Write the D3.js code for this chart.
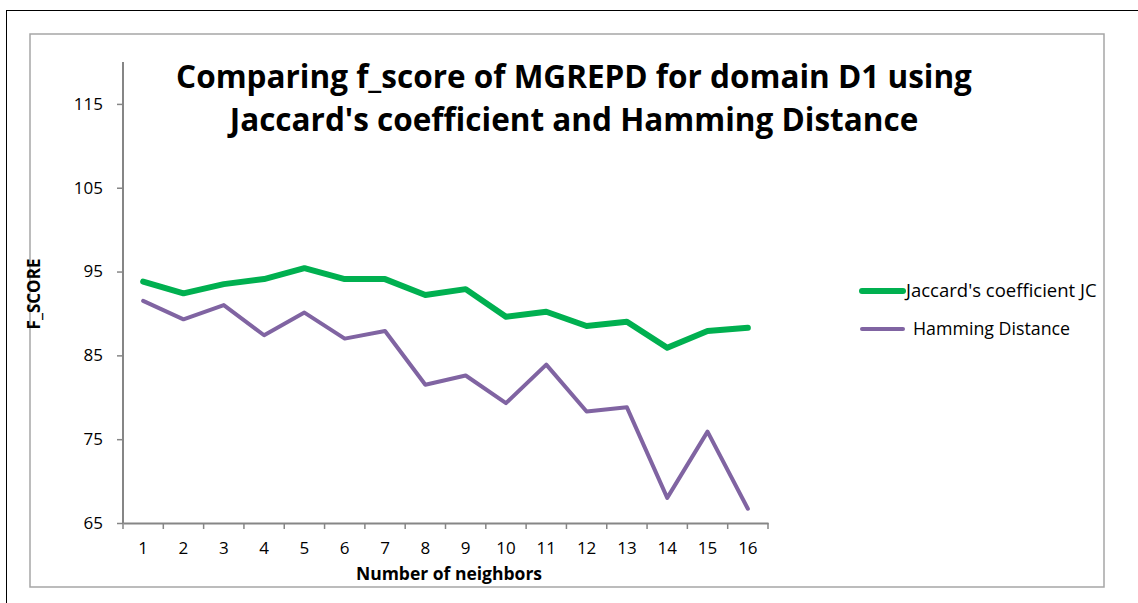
<!DOCTYPE html>
<html>
<head>
<meta charset="utf-8">
<script src="https://cdn.jsdelivr.net/npm/d3@7"></script>
<style>
  body { margin: 0; background: #fff; }
  text { font-family: "Open Sans", "Liberation Sans", sans-serif; }
</style>
</head>
<body>
<svg id="chart" width="1138" height="603"></svg>
<script>
const neighbors = d3.range(1, 17);
const jaccard = [93.8, 92.4, 93.5, 94.1, 95.4, 94.1, 94.1, 92.2, 92.9, 89.6, 90.2, 88.5, 89.0, 85.9, 87.9, 88.3];
const hamming = [91.5, 89.3, 91.0, 87.4, 90.1, 87.0, 87.9, 81.5, 82.6, 79.3, 83.9, 78.3, 78.8, 68.0, 75.9, 66.7];
const yTicks = [65, 75, 85, 95, 105, 115];

const series = [
  { name: "Jaccard's coefficient JC", values: jaccard, color: "#00B050", width: 6, labelDx: 2, size: 18.5 },
  { name: "Hamming Distance", values: hamming, color: "#8064A2", width: 4, labelDx: 9, size: 17.8 }
];

const svg = d3.select('#chart');

// outer frame + chart area frame
svg.append('rect').attr('x', 6.5).attr('y', 10.5).attr('width', 1140).attr('height', 600)
  .attr('fill', 'none').attr('stroke', '#000').attr('stroke-width', 1);
svg.append('rect').attr('x', 30).attr('y', 34).attr('width', 1074).attr('height', 553)
  .attr('fill', '#fff').attr('stroke', '#a6a6a6').attr('stroke-width', 1.5);

const margin = { left: 123, top: 62 };
const width = 645, height = 461;

const x = d3.scaleBand().domain(neighbors).range([0, width]);
const y = d3.scaleLinear().domain([65, 120]).range([height, 0]);

const g = svg.append('g').attr('transform', `translate(${margin.left},${margin.top})`);

const xAxis = g.append('g')
  .attr('transform', `translate(0,${height})`)
  .call(d3.axisBottom(x).tickSize(0).tickPadding(19));
xAxis.select('.domain').attr('stroke', '#868686').attr('stroke-width', 2);
xAxis.selectAll('text').attr('font-size', 17).attr('fill', '#000');
// tick marks at category boundaries
xAxis.selectAll('.bnd').data(d3.range(0, 17)).enter().append('line')
  .attr('x1', i => i * x.step()).attr('x2', i => i * x.step())
  .attr('y1', 0).attr('y2', 6).attr('stroke', '#868686').attr('stroke-width', 1.5);

const yAxis = g.append('g')
  .call(d3.axisLeft(y).tickValues(yTicks).tickSize(6).tickPadding(14));
yAxis.select('.domain').attr('stroke', '#868686').attr('stroke-width', 2).attr('d', `M0,0V${height}`);
yAxis.selectAll('line').attr('stroke', '#868686').attr('stroke-width', 1.5);
yAxis.selectAll('text').attr('font-size', 17).attr('fill', '#000');

const line = d3.line()
  .x((d, i) => x(neighbors[i]) + x.bandwidth() / 2)
  .y(d => y(d));

series.forEach(s => {
  g.append('path').datum(s.values)
    .attr('d', line)
    .attr('fill', 'none')
    .attr('stroke', s.color)
    .attr('stroke-width', s.width)
    .attr('stroke-linejoin', 'round')
    .attr('stroke-linecap', 'round');
});

// title
const title = svg.append('text').attr('text-anchor', 'middle')
  .attr('font-weight', 'bold').attr('font-size', 31.5).attr('fill', '#000');
title.append('tspan').attr('x', 574).attr('y', 88).text('Comparing f_score of MGREPD for domain D1 using');
title.append('tspan').attr('x', 574).attr('y', 131).text("Jaccard's coefficient and Hamming Distance");

// axis titles
svg.append('text').attr('x', 449).attr('y', 580).attr('text-anchor', 'middle')
  .attr('font-weight', 'bold').attr('font-size', 17.5).text('Number of neighbors');
svg.append('text').attr('transform', 'translate(40,294) rotate(-90)').attr('text-anchor', 'middle')
  .attr('font-weight', 'bold').attr('font-size', 17).text('F_SCORE');

// legend
const legend = svg.append('g').attr('transform', 'translate(862,291)');
series.forEach((s, i) => {
  const row = legend.append('g').attr('transform', `translate(0,${i * 38})`);
  row.append('line').attr('x1', 0).attr('x2', 41).attr('y1', 0).attr('y2', 0)
    .attr('stroke', s.color).attr('stroke-width', s.width).attr('stroke-linecap', 'round');
  row.append('text').attr('x', 42 + s.labelDx).attr('y', 6).attr('font-size', s.size).text(s.name);
});
</script>
</body>
</html>
